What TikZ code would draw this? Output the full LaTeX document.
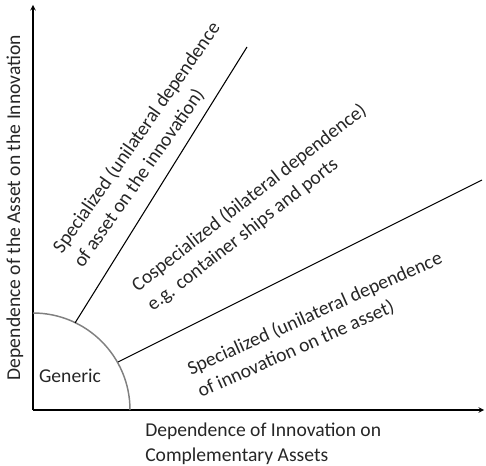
\documentclass[tikz,border=0pt]{standalone}
\usepackage{fontspec}
\setmainfont{Carlito}
\usetikzlibrary{arrows}
\tikzstyle{axis} = [thick,->,>=stealth]
\tikzstyle{border} = [thick]
\tikzstyle{region} = [text=black!85, font=\fontsize{14.7pt}{18.8pt}\selectfont, align=left, inner sep=0pt]

\begin{document}
\begin{tikzpicture}[x=0.75pt, y=0.75pt]
\useasboundingbox (0,0) rectangle (486,465);

\coordinate (origin) at (33,55);
\coordinate (ytop) at (33,460);
\coordinate (xend) at (484,55);
\coordinate (arcx) at (130,55);

\coordinate (upper_start) at (75,142);
\coordinate (upper_end) at (247,418);
\coordinate (lower_start) at (118,103);
\coordinate (lower_end) at (482,285);

% axes
\draw [axis] (origin) -- (ytop);
\draw [axis] (origin) -- (xend);

% generic zone
\draw [black!50, line width=1.1pt] (arcx) arc (0:90:97);

% region borders
\draw [border] (upper_start) -- (upper_end);
\draw [border] (lower_start) -- (lower_end);

\node (ylabel) [region, rotate=90] at (15,257.5) {Dependence of the Asset on the Innovation};
\node (xlabel) [region, anchor=west] at (145,21) {Dependence of Innovation on\\Complementary Assets};
\node (generic) [region] at (70,89) {Generic};

\node (spec_asset) [region, rotate=55] at (147,320) {Specialized (unilateral dependence\\of asset on the innovation)};
\node (cospec) [region, rotate=38] at (257,257) {Cospecialized (bilateral dependence)\\e.g. container ships and ports};
\node (spec_innov) [region, rotate=24] at (320,140) {Specialized (unilateral dependence\\of innovation on the asset)};
\end{tikzpicture}
\end{document}
